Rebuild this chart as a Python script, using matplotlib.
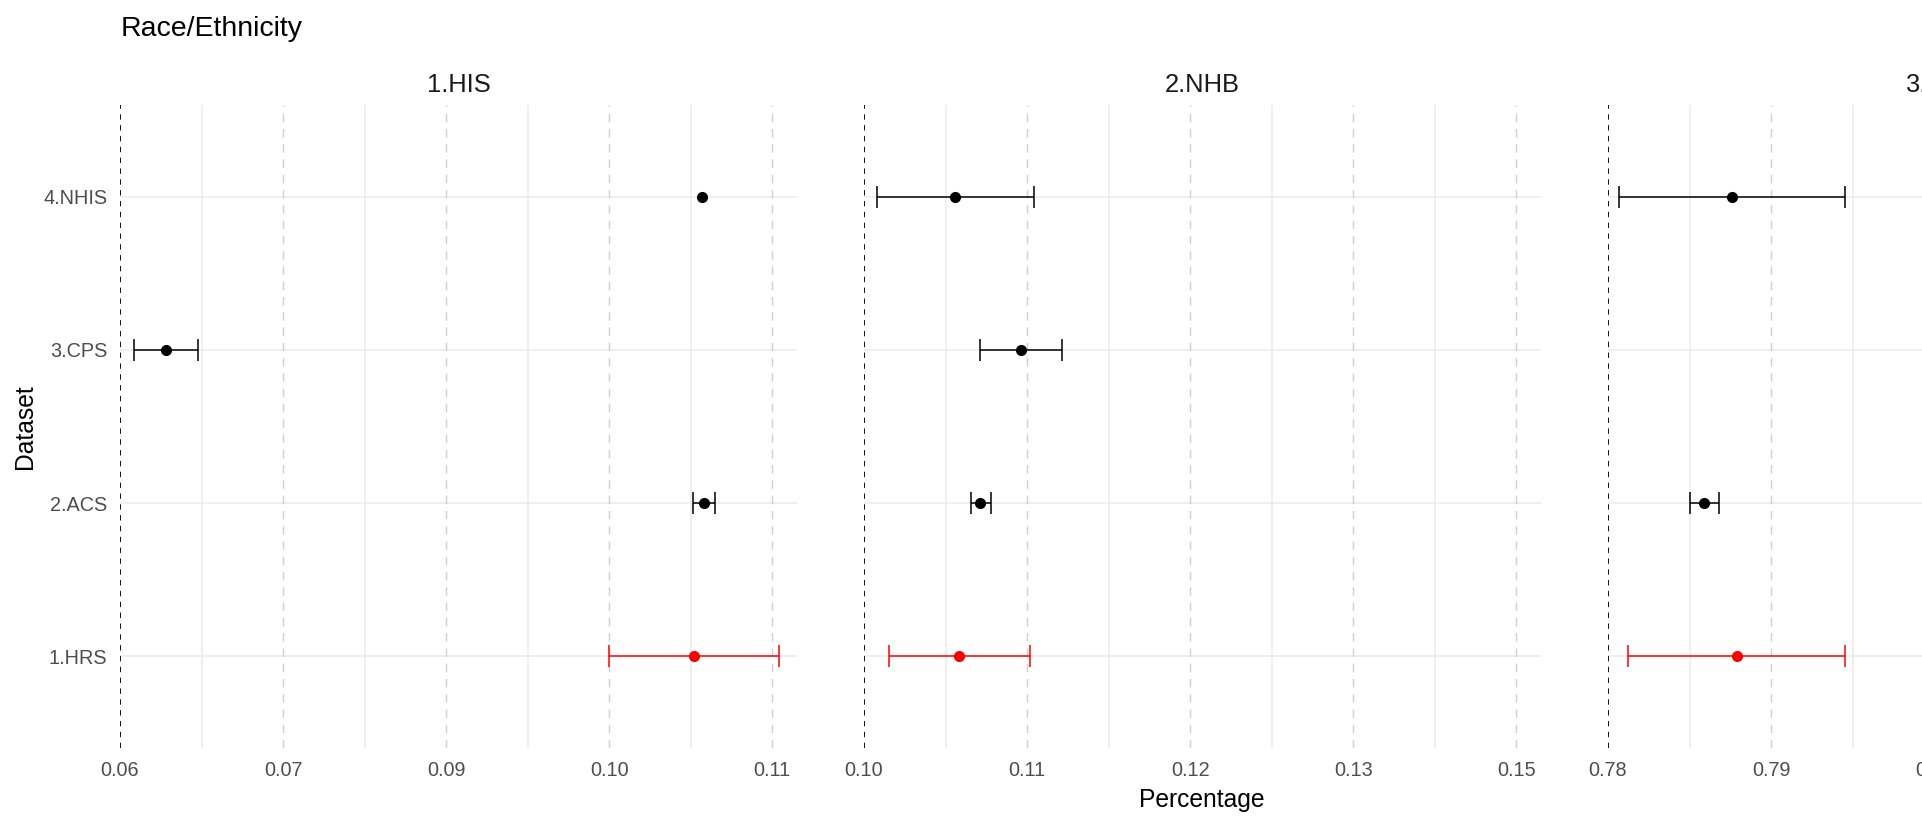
import matplotlib.pyplot as plt

plt.rcParams['font.family'] = ['Liberation Sans', 'DejaVu Sans']

nan = float('nan')

# rows, bottom to top
datasets = ['1.HRS', '2.ACS', '3.CPS', '4.NHIS']
groups = ['1.HIS', '2.NHB', '3.NHW']

# point estimate and interval per dataset (same order as datasets)
his_est = [0.1040, 0.1048, 0.0635, 0.1046]
his_lo = [0.0975, 0.1039, 0.0611, nan]
his_hi = [0.1105, 0.1056, 0.0660, nan]

nhb_est = [0.1073, 0.1089, 0.1120, 0.1070]
nhb_lo = [0.1019, 0.1082, 0.1089, 0.1010]
nhb_hi = [0.1127, 0.1097, 0.1152, 0.1130]

nhw_est = [0.7879, 0.7859, 0.8150, 0.7876]
nhw_lo = [0.7812, 0.7850, 0.8130, 0.7807]
nhw_hi = [0.7945, 0.7868, 0.8170, 0.7945]

# axis breaks and their (rounded) labels
his_breaks = [0.06, 0.0725, 0.085, 0.0975, 0.11]
his_labels = ['0.06', '0.07', '0.09', '0.10', '0.11']
nhb_breaks = [0.10, 0.1125, 0.125, 0.1375, 0.15]
nhb_labels = ['0.10', '0.11', '0.12', '0.13', '0.15']
nhw_breaks = [0.78, 0.79, 0.80, 0.81, 0.82]
nhw_labels = ['0.78', '0.79', '0.80', '0.81', '0.82']

panels = [
    (his_est, his_lo, his_hi, his_breaks, his_labels, (0.06, 0.1119)),
    (nhb_est, nhb_lo, nhb_hi, nhb_breaks, nhb_labels, (0.10, 0.1519)),
    (nhw_est, nhw_lo, nhw_hi, nhw_breaks, nhw_labels, (0.78, 0.8215)),
]

W, H = 1922, 825
fig = plt.figure(figsize=(W / 100, H / 100), dpi=100)

# panel positions in pixels (third panel runs off the right edge)
lefts = [120, 864, 1608]
pw = 677
top, bottom = 105, 748

grid_col = '#EBEBEB'
dash_col = '#CFCFCF'
txt_col = '#4D4D4D'

for i, (est, lo, hi, breaks, labels, xlim) in enumerate(panels):
    ax = fig.add_axes([lefts[i] / W, 1 - bottom / H, pw / W, (bottom - top) / H])
    ax.set_xlim(*xlim)
    ax.set_ylim(0.4, len(datasets) + 0.6)
    for s in ax.spines.values():
        s.set_visible(False)

    # minor (solid) grid between breaks
    for a, b in zip(breaks[:-1], breaks[1:]):
        ax.axvline((a + b) / 2, color=grid_col, lw=1.1, zorder=0)
    # horizontal grid at rows
    for y in range(1, len(datasets) + 1):
        ax.axhline(y, color=grid_col, lw=1.1, zorder=0)
    # dashed lines at breaks
    for b in breaks[1:]:
        ax.axvline(b, color=dash_col, lw=1.0, ls=(0, (6, 5)), zorder=0.5)
    ax.axvline(breaks[0], color='black', lw=1.3, ls=(0, (3, 3)), zorder=1)

    for j in range(len(datasets)):
        col = 'red' if j == 0 else 'black'
        if lo[j] == lo[j]:
            ax.errorbar(est[j], j + 1, xerr=[[est[j] - lo[j]], [hi[j] - est[j]]],
                        fmt='o', color=col, ms=7, elinewidth=1.1, capsize=8,
                        capthick=1.1, zorder=3)
        else:
            ax.plot(est[j], j + 1, 'o', color=col, ms=7, zorder=3)

    ax.set_xticks(breaks)
    ax.set_xticklabels(labels)
    ax.tick_params(axis='x', length=0, pad=9, labelsize=14.3, labelcolor=txt_col)
    ax.set_yticks(range(1, len(datasets) + 1))
    if i == 0:
        ax.set_yticklabels(datasets)
        ax.tick_params(axis='y', length=0, pad=9, labelsize=14.3, labelcolor=txt_col)
    else:
        ax.set_yticklabels([])
        ax.tick_params(axis='y', length=0)

    ax.text(0.5, 1 + 20 / (bottom - top), groups[i], transform=ax.transAxes,
            ha='center', va='center', fontsize=18.4, color='#1A1A1A')

fig.text(121 / W, 1 - 29 / H, 'Race/Ethnicity', ha='left', va='center',
         fontsize=20.5, color='black')
fig.text(1202 / W, 1 - 800 / H, 'Percentage', ha='center', va='center',
         fontsize=17.7, color='black')
fig.text(25 / W, 1 - 427 / H, 'Dataset', ha='center', va='center',
         rotation=90, fontsize=17.7, color='black')

fig.savefig('out.png', dpi=100)
